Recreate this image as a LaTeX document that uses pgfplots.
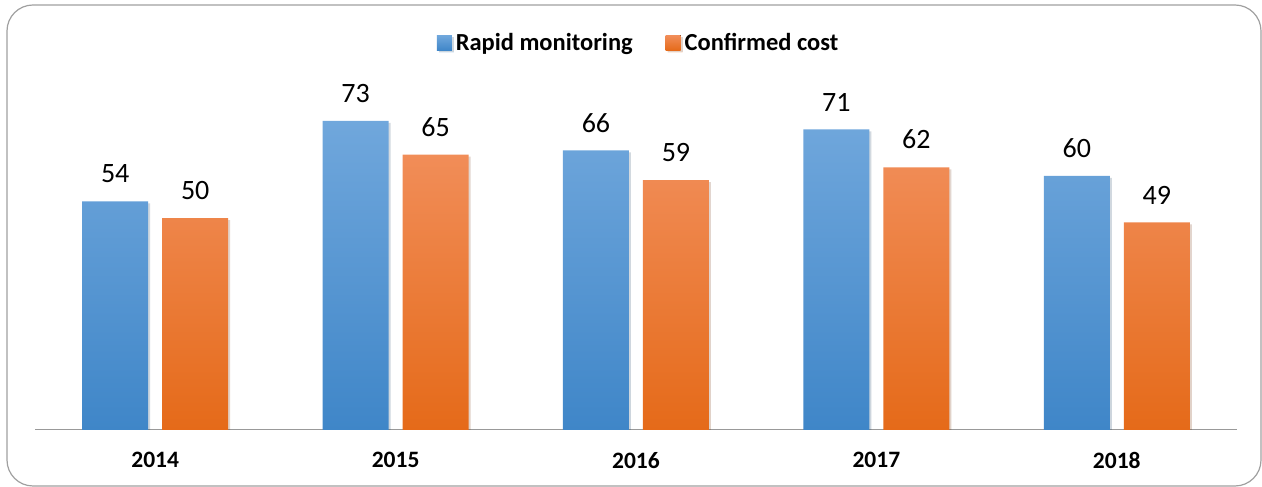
\documentclass[border=0pt]{standalone}
\usepackage{pgfplots}
\pgfplotsset{compat=1.18}
\usepackage{fontspec}
\setmainfont{Carlito}
\definecolor{bluetop}{HTML}{70A7DC}
\definecolor{bluebot}{HTML}{3F86C8}
\definecolor{orgtop}{HTML}{F18D58}
\definecolor{orgbot}{HTML}{E56A19}
\definecolor{framegray}{HTML}{A0A0A0}
\begin{document}
\begin{tikzpicture}[x=1pt,y=1pt]
\useasboundingbox (0,0) rectangle (1262,487);
\draw[framegray, line width=1.2pt, rounded corners=26pt] (7,1) rectangle (1261,482);
\begin{axis}[
  at={(35pt,57pt)}, anchor=south west,
  scale only axis, width=1202pt, height=410pt,
  xmin=-0.5, xmax=4.5, ymin=0, ymax=96.8,
  ybar=14pt, bar width=66pt,
  axis x line*=bottom, hide y axis,
  x axis line style={-, draw=gray!80, line width=1pt},
  xtick={0,1,2,3,4},
  xticklabels={2014,2015,2016,2017,2018},
  major tick length=0pt,
  /pgf/number format/assume math mode=true,
  xticklabel style={font=\bfseries\fontsize{23.5}{27}\selectfont, inner sep=0pt, yshift=-22pt},
  nodes near coords,
  every node near coord/.append style={font=\fontsize{28}{32}\selectfont, inner sep=0pt, anchor=south, yshift=18pt, text=black},
  legend style={at={(0.503,0.944)}, anchor=center, draw=none, fill=none,
    font=\bfseries\fontsize{24.5}{28}\selectfont, nodes={inner sep=4pt},
    /tikz/every even column/.append style={column sep=29pt}},
  legend columns=2,
  legend image code/.code={\fill[#1] (0pt,-7.5pt) rectangle (15pt,7.5pt);},
]
\addplot[draw=none, shading=axis, top color=bluetop, bottom color=bluebot,
  preaction={fill=black, opacity=0.12, transform canvas={xshift=2pt,yshift=-2pt}}]
  coordinates {(0,54) (1,73) (2,66) (3,71) (4,60)};
\addplot[draw=none, shading=axis, top color=orgtop, bottom color=orgbot,
  preaction={fill=black, opacity=0.12, transform canvas={xshift=2pt,yshift=-2pt}}]
  coordinates {(0,50) (1,65) (2,59) (3,62) (4,49)};
\legend{Rapid monitoring, Confirmed cost}
\end{axis}
\end{tikzpicture}
\end{document}
